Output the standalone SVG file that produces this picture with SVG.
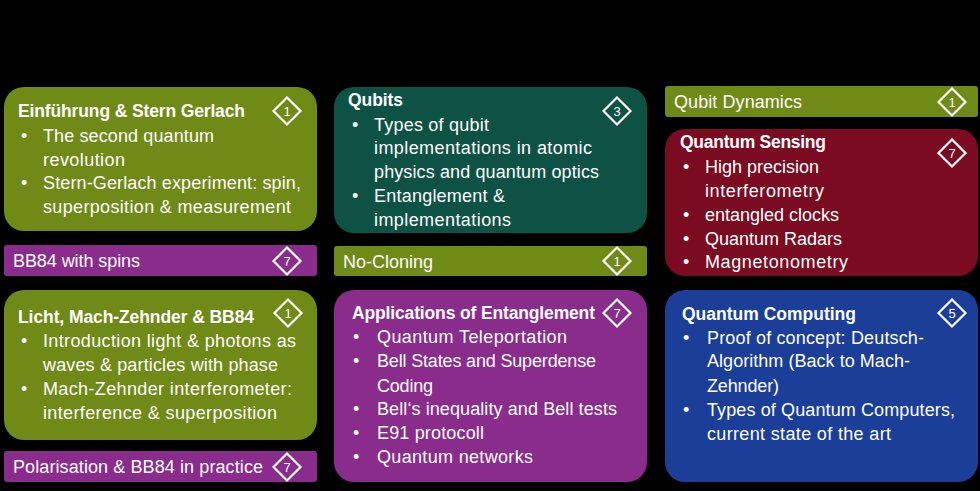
<svg xmlns="http://www.w3.org/2000/svg" width="980" height="491" viewBox="0 0 980 491">
<defs>
<style>
text{font-family:"Liberation Sans",Arial,sans-serif;fill:#ffffff;font-size:18px}
.t{font-weight:bold;font-size:17.5px}
.n{font-size:13px;text-anchor:middle}
.d{fill:none;stroke:#ffffff;stroke-width:2.2}
.g{fill:#6F8A17}
.teal{fill:#0E5245}
.red{fill:#7A0B20}
.pur{fill:#8A2C8B}
.blu{fill:#1B3E98}
</style>
<g id="dia"><path class="d" d="M0,-13.5 L13.5,0 L0,13.5 L-13.5,0 Z"/></g>
</defs>
<rect width="980" height="491" fill="#000000"/>

<g id="einfuehrung">
<rect class="g" x="4" y="87" width="313" height="144" rx="20"/>
<text class="t" x="18" y="117" textLength="227">Einführung &amp; Stern Gerlach</text>
<text x="21" y="142">•</text><text x="43" y="142" textLength="171">The second quantum</text>
<text x="43" y="166" textLength="82">revolution</text>
<text x="21" y="189">•</text><text x="43" y="189" textLength="258">Stern-Gerlach experiment: spin,</text>
<text x="43" y="213" textLength="248">superposition &amp; measurement</text>
<use href="#dia" x="287" y="111"/><text class="n" x="287" y="115.5">1</text>
</g>

<g id="bb84spins">
<rect class="pur" x="4" y="245" width="313" height="31" rx="3"/>
<text x="13" y="267" textLength="127">BB84 with spins</text>
<use href="#dia" x="287" y="261"/><text class="n" x="287" y="265.5">7</text>
</g>

<g id="licht">
<rect class="g" x="4" y="290" width="313" height="150" rx="20"/>
<text class="t" x="18" y="323" textLength="236">Licht, Mach-Zehnder &amp; BB84</text>
<text x="21" y="347">•</text><text x="43" y="347" textLength="253">Introduction light &amp; photons as</text>
<text x="43" y="371" textLength="235">waves &amp; particles with phase</text>
<text x="21" y="395">•</text><text x="43" y="395" textLength="249">Mach-Zehnder interferometer:</text>
<text x="43" y="419" textLength="234">interference &amp; superposition</text>
<use href="#dia" x="288" y="313"/><text class="n" x="288" y="317.5">1</text>
</g>

<g id="polarisation">
<rect class="pur" x="4" y="451" width="313" height="31" rx="3"/>
<text x="13" y="473" textLength="250">Polarisation &amp; BB84 in practice</text>
<use href="#dia" x="287" y="467"/><text class="n" x="287" y="471.5">7</text>
</g>

<g id="qubits">
<rect class="teal" x="334" y="87" width="313" height="146" rx="20"/>
<text class="t" x="348" y="106" textLength="55">Qubits</text>
<text x="352" y="131">•</text><text x="374" y="131" textLength="115">Types of qubit</text>
<text x="374" y="154" textLength="218">implementations in atomic</text>
<text x="374" y="178" textLength="225">physics and quantum optics</text>
<text x="352" y="202">•</text><text x="374" y="202" textLength="131">Entanglement &amp;</text>
<text x="374" y="226" textLength="137">implementations</text>
<use href="#dia" x="617" y="111"/><text class="n" x="617" y="115.5">3</text>
</g>

<g id="nocloning">
<rect class="g" x="334" y="246" width="313" height="30" rx="3"/>
<text x="343" y="268" textLength="90">No-Cloning</text>
<use href="#dia" x="617" y="261"/><text class="n" x="617" y="265.5">1</text>
</g>

<g id="applications">
<rect class="pur" x="334" y="290" width="313" height="192" rx="20"/>
<text class="t" x="352" y="319" textLength="243">Applications of Entanglement</text>
<text x="353" y="343">•</text><text x="377" y="343" textLength="190">Quantum Teleportation</text>
<text x="353" y="367">•</text><text x="377" y="367" textLength="219">Bell States and Superdense</text>
<text x="377" y="392" textLength="56">Coding</text>
<text x="353" y="415">•</text><text x="377" y="415" textLength="240">Bell‘s inequality and Bell tests</text>
<text x="353" y="439">•</text><text x="377" y="439" textLength="107">E91 protocoll</text>
<text x="353" y="463">•</text><text x="377" y="463" textLength="156">Quantum networks</text>
<use href="#dia" x="617" y="313"/><text class="n" x="617" y="317.5">7</text>
</g>

<g id="qubitdynamics">
<rect class="g" x="665" y="86" width="313" height="31" rx="3"/>
<text x="674" y="108" textLength="128">Qubit Dynamics</text>
<use href="#dia" x="952" y="102"/><text class="n" x="952" y="106.5">1</text>
</g>

<g id="sensing">
<rect class="red" x="665" y="129" width="313" height="147" rx="20"/>
<text class="t" x="680" y="148" textLength="146">Quantum Sensing</text>
<text x="683" y="173">•</text><text x="705" y="173" textLength="114">High precision</text>
<text x="705" y="197" textLength="119">interferometry</text>
<text x="683" y="221">•</text><text x="705" y="221" textLength="134">entangled clocks</text>
<text x="683" y="245">•</text><text x="705" y="245" textLength="137">Quantum Radars</text>
<text x="683" y="268">•</text><text x="705" y="268" textLength="143">Magnetonometry</text>
<use href="#dia" x="952" y="153"/><text class="n" x="952" y="157.5">7</text>
</g>

<g id="computing">
<rect class="blu" x="665" y="290" width="313" height="192" rx="20"/>
<text class="t" x="682" y="320" textLength="174">Quantum Computing</text>
<text x="683" y="344">•</text><text x="707" y="344" textLength="217">Proof of concept: Deutsch-</text>
<text x="707" y="367" textLength="203">Algorithm (Back to Mach-</text>
<text x="707" y="392" textLength="72">Zehnder)</text>
<text x="683" y="416">•</text><text x="707" y="416" textLength="248">Types of Quantum Computers,</text>
<text x="707" y="440" textLength="184">current state of the art</text>
<use href="#dia" x="952" y="313"/><text class="n" x="952" y="317.5">5</text>
</g>
</svg>
